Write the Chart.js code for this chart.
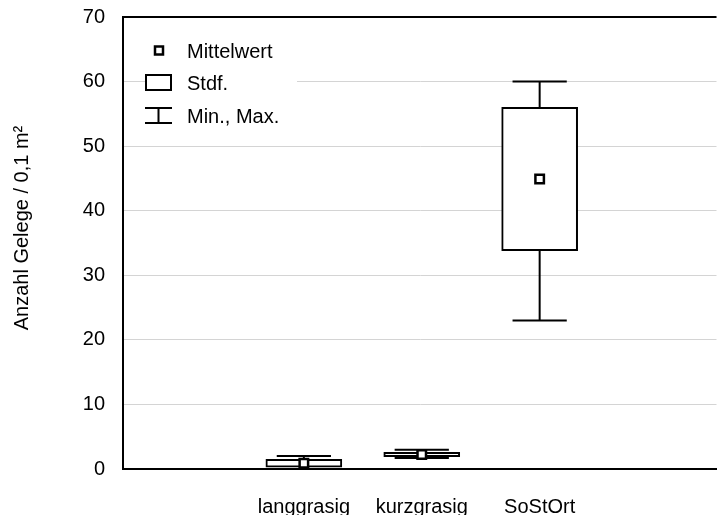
<!DOCTYPE html>
<html>
<head>
<meta charset="utf-8">
<script src="https://cdn.jsdelivr.net/npm/chart.js@4"></script>
<style>
  html, body { margin: 0; padding: 0; background: #fff; overflow: hidden; }
  #wrap { width: 725px; height: 515px; position: relative; }
</style>
</head>
<body>
<div id="wrap"><canvas id="grafik"></canvas></div>
<script>
// Werte
const kategorien = ['langgrasig', 'kurzgrasig', 'SoStOrt'];
const mittelwert = [0.9, 2.25, 44.9];
const stdabw = [0.6, 0.35, 11.1];
const minimum = [0, 1.7, 23];
const maximum = [2, 3, 60];
const yTicks = [0, 10, 20, 30, 40, 50, 60, 70];

const FONT = '"Liberation Sans", Arial, sans-serif';
const KAPPE = 0.23; // halbe Breite der Whisker-Kappen (x-Einheiten)

// Whisker: senkrechte Linien und Kappen, mit null getrennt
const whiskerPunkte = [];
const kappenPunkte = [];
kategorien.forEach((k, i) => {
    const x = i + 1;
    whiskerPunkte.push({ x: x, y: minimum[i] }, { x: x, y: maximum[i] }, { x: x, y: null });
    kappenPunkte.push({ x: x - KAPPE, y: maximum[i] }, { x: x + KAPPE, y: maximum[i] }, { x: x, y: null });
    kappenPunkte.push({ x: x - KAPPE, y: minimum[i] }, { x: x + KAPPE, y: minimum[i] }, { x: x, y: null });
});
const boxDaten = kategorien.map((k, i) => ({ x: i + 1, y: [mittelwert[i] - stdabw[i], mittelwert[i] + stdabw[i]] }));
const mittelDaten = kategorien.map((k, i) => ({ x: i + 1, y: mittelwert[i] }));

const rahmenPlugin = {
    id: 'rahmen',
    afterDraw(chart) {
        const ctx = chart.ctx;
        const a = chart.chartArea;
        ctx.save();
        // obere Rahmenlinie
        ctx.strokeStyle = '#000';
        ctx.lineWidth = 2;
        ctx.beginPath();
        ctx.moveTo(a.left - 1, a.top);
        ctx.lineTo(a.right, a.top);
        ctx.stroke();

        // Achsentitel
        ctx.fillStyle = '#000';
        ctx.font = '20px ' + FONT;
        ctx.textAlign = 'center';
        ctx.textBaseline = 'middle';
        ctx.translate(22, 228);
        ctx.rotate(-Math.PI / 2);
        ctx.fillText('Anzahl Gelege / 0,1 m²', 0, 0);
        ctx.restore();

        // Legende
        ctx.save();
        ctx.fillStyle = '#fff';
        ctx.fillRect(145, 38, 152, 92);
        ctx.strokeStyle = '#000';
        ctx.lineWidth = 2.5;
        ctx.strokeRect(155, 46.5, 8, 8);
        ctx.lineWidth = 2;
        ctx.strokeRect(146, 75, 25, 15);
        ctx.beginPath();
        ctx.moveTo(145, 108); ctx.lineTo(172, 108);
        ctx.moveTo(145, 123); ctx.lineTo(172, 123);
        ctx.moveTo(158.5, 108); ctx.lineTo(158.5, 123);
        ctx.stroke();
        ctx.fillStyle = '#000';
        ctx.font = '20px ' + FONT;
        ctx.textAlign = 'left';
        ctx.textBaseline = 'middle';
        ctx.fillText('Mittelwert', 187, 52);
        ctx.fillText('Stdf.', 187, 84);
        ctx.fillText('Min., Max.', 187, 117);
        ctx.restore();
    }
};

new Chart(document.getElementById('grafik').getContext('2d'), {
    type: 'scatter',
    data: {
        datasets: [
            {
                type: 'line',
                data: whiskerPunkte,
                borderColor: '#000',
                borderWidth: 2,
                pointRadius: 0,
                spanGaps: false,
                order: 4
            },
            {
                type: 'line',
                data: kappenPunkte,
                borderColor: '#000',
                borderWidth: 2,
                pointRadius: 0,
                spanGaps: false,
                order: 3
            },
            {
                type: 'bar',
                data: boxDaten,
                backgroundColor: '#fff',
                borderColor: '#000',
                borderWidth: 2,
                borderSkipped: false,
                barThickness: 76,
                order: 2
            },
            {
                type: 'scatter',
                data: mittelDaten,
                pointStyle: 'rect',
                pointRadius: 6,
                pointBackgroundColor: '#fff',
                pointBorderColor: '#000',
                pointBorderWidth: 2.5,
                order: 1
            }
        ]
    },
    options: {
        responsive: true,
        maintainAspectRatio: false,
        animation: false,
        layout: { padding: { top: 17, right: 0, bottom: 0, left: 0 } },
        plugins: {
            legend: { display: false },
            tooltip: { enabled: false }
        },
        scales: {
            x: {
                type: 'linear',
                min: -0.534,
                max: 4.5,
                offset: false,
                afterBuildTicks: (scale) => { scale.ticks = kategorien.map((k, i) => ({ value: i + 1 })); },
                afterFit: (scale) => {
                    scale.height = 46;
                    scale.paddingLeft = 0;
                    scale.paddingRight = 0;
                },
                grid: { display: false },
                border: { display: true, color: '#000', width: 2 },
                ticks: {
                    autoSkip: false,
                    maxRotation: 0,
                    padding: 18,
                    color: '#000',
                    font: { size: 20, family: FONT },
                    callback: (v) => kategorien[v - 1] || ''
                }
            },
            y: {
                min: 0,
                max: 70,
                afterBuildTicks: (scale) => { scale.ticks = yTicks.map(v => ({ value: v })); },
                afterFit: (scale) => {
                    scale.width = 123;
                    scale.paddingTop = 0;
                    scale.paddingBottom = 0;
                },
                grid: { color: '#d4d4d4', lineWidth: 1, drawTicks: false },
                border: { display: true, color: '#000', width: 2 },
                ticks: {
                    padding: 18,
                    color: '#000',
                    font: { size: 20, family: FONT }
                }
            }
        }
    },
    plugins: [rahmenPlugin]
});
</script>
</body>
</html>
